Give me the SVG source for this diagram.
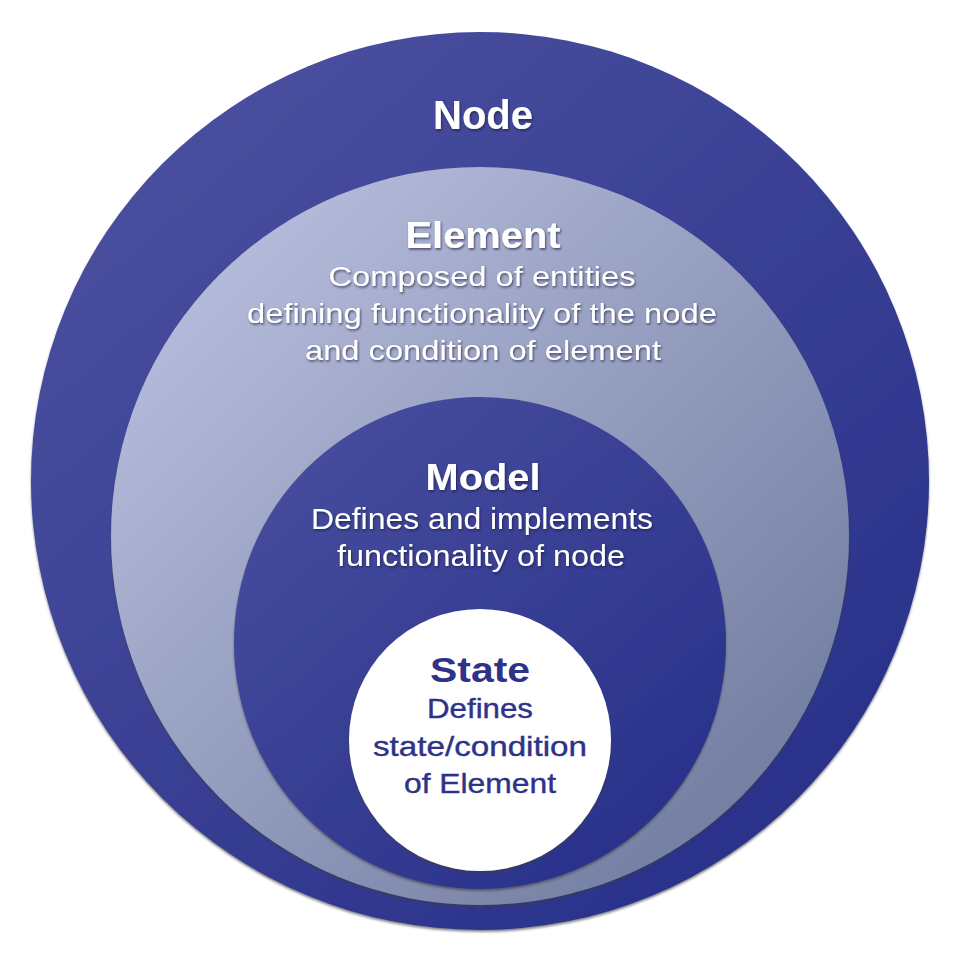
<svg xmlns="http://www.w3.org/2000/svg" width="960" height="960" viewBox="0 0 960 960">
  <style>
    .t { font-family: "Liberation Sans", Arial, sans-serif; text-anchor: middle; }
    .w { fill: #ffffff; filter: url(#ts); }
    .b { font-weight: bold; }
    .s { fill: #2e3388; stroke: #2e3388; stroke-width: 0.4; }
  </style>
  <defs>
    <linearGradient id="gOuter" x1="0.15" y1="0.1" x2="0.85" y2="0.9">
      <stop offset="0" stop-color="#4a4f9e"/>
      <stop offset="1" stop-color="#29318a"/>
    </linearGradient>
    <linearGradient id="gElem" x1="0.15" y1="0.15" x2="0.85" y2="0.85">
      <stop offset="0" stop-color="#b3b9d9"/>
      <stop offset="1" stop-color="#7480a3"/>
    </linearGradient>
    <linearGradient id="gModel" x1="0.15" y1="0.1" x2="0.85" y2="0.9">
      <stop offset="0" stop-color="#464c9d"/>
      <stop offset="1" stop-color="#29318a"/>
    </linearGradient>
    <filter id="sh" x="-5%" y="-5%" width="110%" height="112%">
      <feDropShadow dx="0" dy="2" stdDeviation="1.2" flood-color="#3a3a3a" flood-opacity="0.6"/>
    </filter>
    <filter id="ts" x="-5%" y="-20%" width="110%" height="150%">
      <feDropShadow dx="1" dy="1.5" stdDeviation="1" flood-color="#1a1a3a" flood-opacity="0.7"/>
    </filter>
  </defs>

  <g id="node-node">
    <circle cx="480" cy="481" r="449" fill="url(#gOuter)" filter="url(#sh)"/>
    <text class="t w b" x="483" y="129" font-size="40">Node</text>
  </g>

  <g id="node-element">
    <circle cx="480" cy="536" r="369" fill="url(#gElem)" filter="url(#sh)"/>
    <text class="t w b" x="483" y="248" font-size="37" textLength="155" lengthAdjust="spacingAndGlyphs">Element</text>
    <text class="t w" x="482" y="286" font-size="28" textLength="307" lengthAdjust="spacingAndGlyphs">Composed of entities</text>
    <text class="t w" x="482" y="323" font-size="28" textLength="470" lengthAdjust="spacingAndGlyphs">defining functionality of the node</text>
    <text class="t w" x="483" y="360" font-size="28" textLength="356" lengthAdjust="spacingAndGlyphs">and condition of element</text>
  </g>

  <g id="node-model">
    <circle cx="480" cy="643" r="246" fill="url(#gModel)" filter="url(#sh)"/>
    <text class="t w b" x="483" y="490" font-size="36" textLength="115" lengthAdjust="spacingAndGlyphs">Model</text>
    <text class="t w" x="482" y="529" font-size="30" textLength="342" lengthAdjust="spacingAndGlyphs">Defines and implements</text>
    <text class="t w" x="481" y="566" font-size="30" textLength="288" lengthAdjust="spacingAndGlyphs">functionality of node</text>
  </g>

  <g id="node-state">
    <circle cx="480" cy="740" r="131" fill="#ffffff" filter="url(#sh)"/>
    <text class="t b" x="480" y="682" font-size="35" fill="#2e3388" textLength="100" lengthAdjust="spacingAndGlyphs">State</text>
    <text class="t s" x="480" y="718" font-size="28" textLength="106" lengthAdjust="spacingAndGlyphs">Defines</text>
    <text class="t s" x="480" y="756" font-size="28" textLength="214" lengthAdjust="spacingAndGlyphs">state/condition</text>
    <text class="t s" x="480" y="793" font-size="28" textLength="152" lengthAdjust="spacingAndGlyphs">of Element</text>
  </g>

  <g id="connectors"></g>
</svg>
